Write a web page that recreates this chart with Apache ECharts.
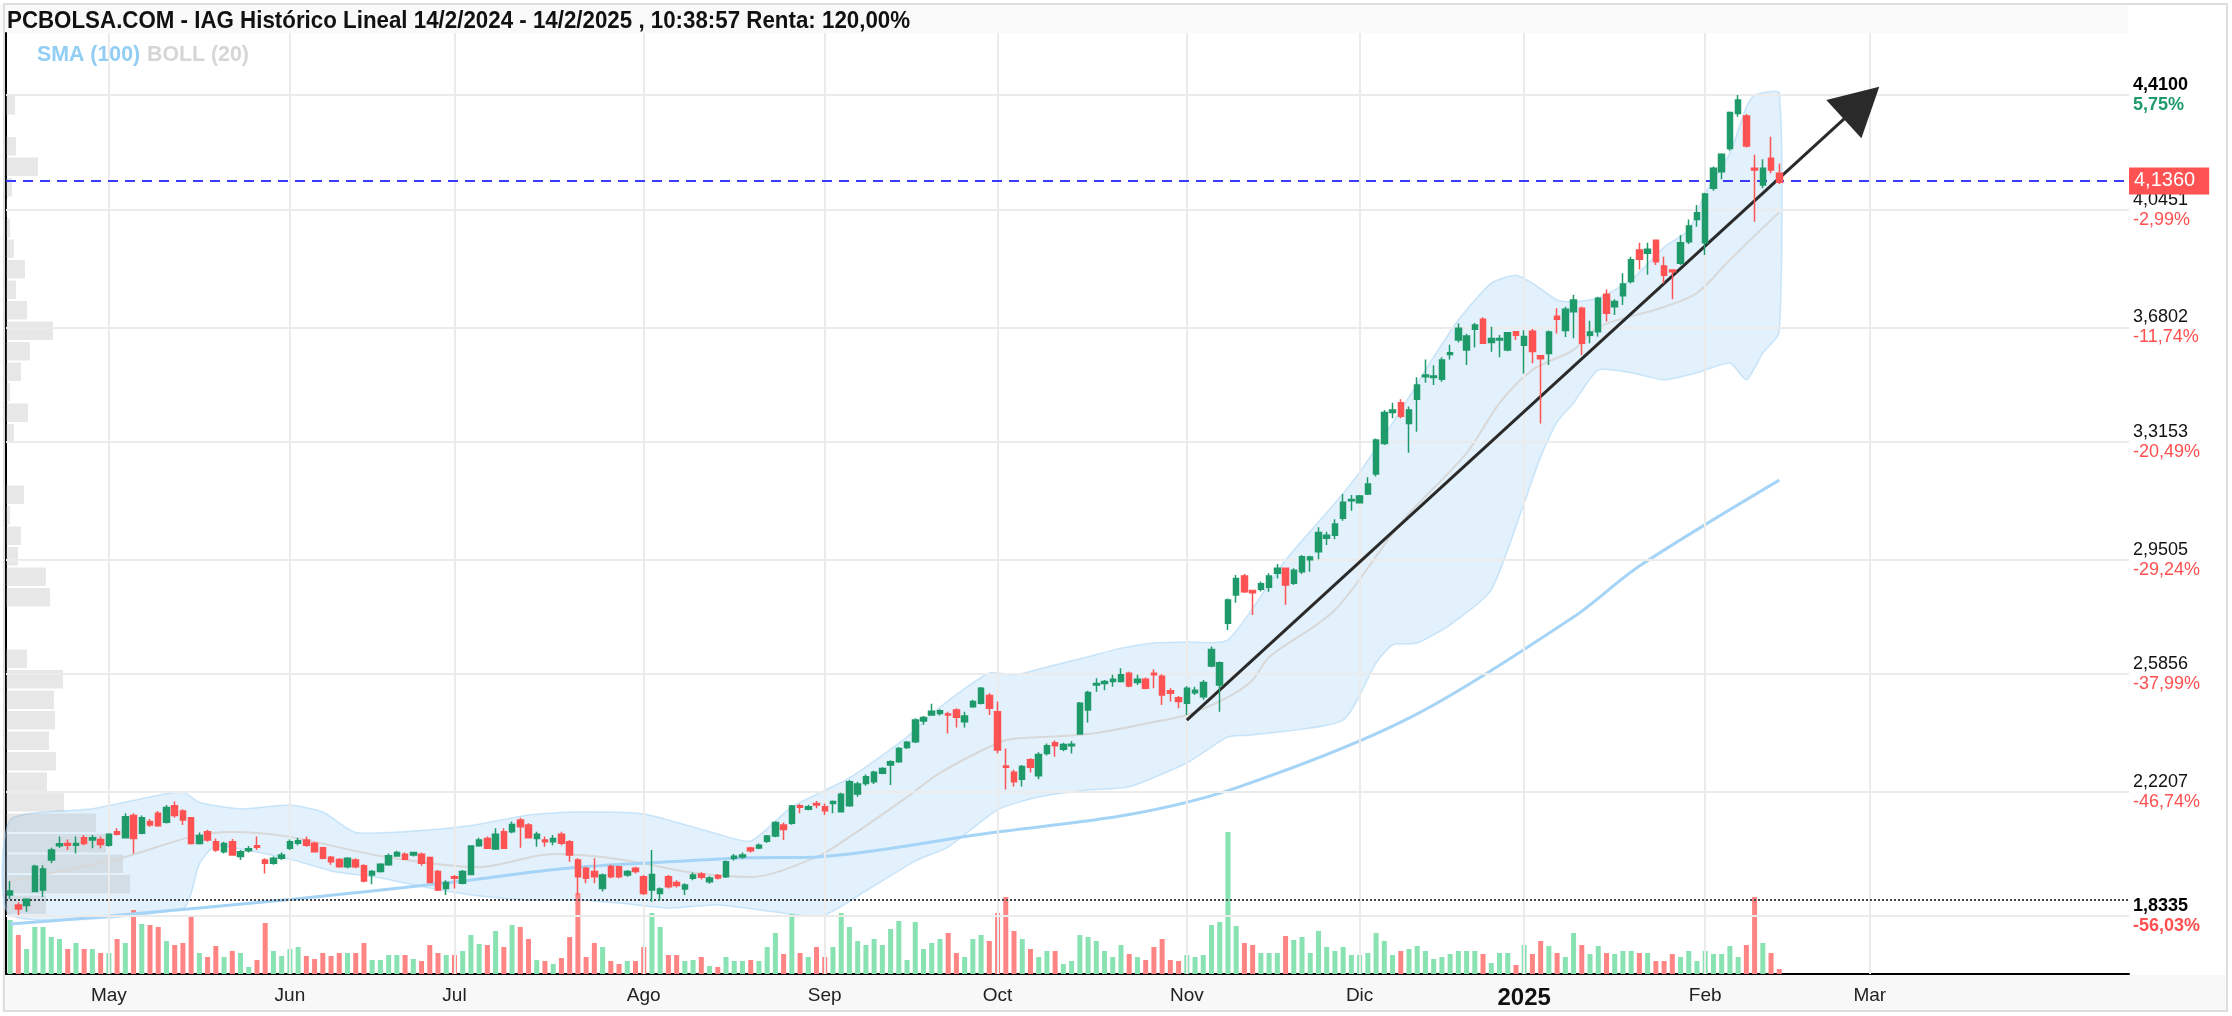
<!DOCTYPE html>
<html>
<head>
<meta charset="utf-8">
<title>IAG Histórico Lineal</title>
<script src="https://cdn.jsdelivr.net/npm/echarts@6/dist/echarts.min.js"></script>
<style>
html, body { margin: 0; padding: 0; background: #fff; }
#chart { width: 2232px; height: 1016px; }
</style>
</head>
<body>
<div id="chart"></div>
<script>
// sesiones 15/4/2024 ... (hueco futuro hasta mediados de abril 2025)
const holidays = ['2024-05-01', '2024-12-25', '2024-12-26', '2025-01-01'];
const cats = [];
(function () {
    let d = new Date(Date.UTC(2024, 3, 15));
    while (cats.length < 258) {
        const wd = d.getUTCDay();
        const s = d.toISOString().slice(0, 10);
        if (wd !== 0 && wd !== 6 && holidays.indexOf(s) < 0) cats.push(s);
        d.setUTCDate(d.getUTCDate() + 1);
    }
})();

// OHLC
const opens = [
1.896,1.865,1.863,1.907,1.912,2.006,2.051,2.058,2.053,2.076,
2.069,2.071,2.053,2.095,2.076,2.146,2.090,2.127,2.153,2.125,
2.177,2.160,2.139,2.058,2.095,2.064,2.032,2.064,2.017,2.035,
2.051,2.006,1.996,2.012,2.043,2.059,2.069,2.059,2.045,2.015,
2.008,1.985,2.006,1.988,1.959,1.970,1.991,2.019,2.024,2.022,
2.024,2.014,1.970,1.917,1.954,1.933,1.961,2.051,2.074,2.041,
2.095,2.095,2.132,2.116,2.074,2.069,2.064,2.087,2.064,2.006,
1.980,1.970,1.917,1.986,1.985,1.959,1.980,1.954,1.912,1.901,
1.954,1.936,1.915,1.949,1.962,1.938,1.958,1.954,2.012,2.016,
2.044,2.044,2.065,2.082,2.116,2.122,2.177,2.166,2.184,2.174,
2.184,2.158,2.177,2.214,2.247,2.252,2.279,2.305,2.315,2.360,
2.378,2.443,2.462,2.467,2.465,2.478,2.441,2.488,2.499,2.523,
2.472,2.302,2.282,2.260,2.321,2.271,2.341,2.375,2.354,2.365,
2.402,2.478,2.556,2.561,2.567,2.567,2.593,2.564,2.574,2.593,
2.584,2.538,2.516,2.499,2.532,2.519,2.616,2.556,2.750,2.839,
2.899,2.853,2.857,2.863,2.907,2.923,2.876,2.912,2.950,2.975,
3.017,3.027,3.080,3.135,3.129,3.156,3.219,3.315,3.412,3.443,
3.378,3.454,3.525,3.522,3.517,3.595,3.640,3.609,3.674,3.705,
3.632,3.640,3.609,3.666,3.624,3.668,3.591,3.598,3.715,3.670,
3.729,3.740,3.655,3.666,3.784,3.745,3.779,3.824,3.923,3.913,
3.954,3.873,3.860,3.881,3.949,4.019,3.946,4.117,4.169,4.242,
4.352,4.344,4.180,4.127,4.211,4.164];
const closes = [
1.909,1.852,1.883,1.987,1.978,2.038,2.057,2.053,2.058,2.058,
2.076,2.055,2.087,2.087,2.142,2.074,2.139,2.116,2.114,2.171,
2.146,2.132,2.058,2.083,2.069,2.038,2.058,2.022,2.032,2.042,
2.046,1.996,2.012,2.022,2.064,2.067,2.053,2.032,2.012,2.001,
1.985,2.012,1.985,1.940,1.970,1.993,2.020,2.030,2.009,2.030,
1.996,1.936,1.912,1.936,1.949,1.970,2.050,2.069,2.043,2.087,
2.043,2.118,2.111,2.076,2.087,2.064,2.074,2.059,2.022,1.954,
1.949,1.954,1.959,1.954,1.954,1.970,1.970,1.901,1.961,1.915,
1.922,1.926,1.928,1.959,1.952,1.950,1.950,2.001,2.018,2.022,
2.035,2.053,2.082,2.124,2.102,2.176,2.172,2.174,2.179,2.161,
2.190,2.213,2.252,2.245,2.268,2.282,2.294,2.315,2.357,2.376,
2.446,2.454,2.474,2.475,2.462,2.455,2.459,2.504,2.546,2.483,
2.352,2.298,2.252,2.300,2.298,2.338,2.365,2.365,2.369,2.370,
2.499,2.533,2.561,2.567,2.574,2.588,2.553,2.574,2.546,2.588,
2.525,2.530,2.504,2.546,2.540,2.564,2.668,2.626,2.823,2.891,
2.849,2.846,2.874,2.899,2.923,2.870,2.917,2.959,2.958,3.035,
3.027,3.062,3.130,3.139,3.150,3.188,3.326,3.412,3.420,3.401,
3.420,3.499,3.530,3.527,3.577,3.600,3.677,3.653,3.687,3.630,
3.645,3.645,3.663,3.655,3.651,3.604,3.581,3.665,3.705,3.737,
3.766,3.630,3.665,3.771,3.724,3.761,3.816,3.892,3.894,3.925,
3.886,3.844,3.855,3.946,3.998,4.040,4.099,4.180,4.224,4.355,
4.394,4.250,4.174,4.180,4.174,4.136];
const lows = [
1.884,1.8335,1.844,1.905,1.890,1.996,2.045,2.038,2.027,2.053,
2.043,2.043,2.048,2.083,2.074,2.027,2.087,2.111,2.111,2.121,
2.139,2.116,2.055,2.055,2.064,2.032,2.027,2.020,2.006,2.030,
2.038,1.964,1.991,2.006,2.038,2.053,2.048,2.030,2.009,1.991,
1.982,1.980,1.980,1.936,1.930,1.967,1.988,2.017,2.006,2.017,
1.988,1.933,1.909,1.896,1.917,1.930,1.959,2.048,2.041,2.038,
2.041,2.090,2.045,2.074,2.048,2.048,2.053,2.053,2.001,1.896,
1.933,1.933,1.907,1.949,1.949,1.954,1.964,1.896,1.875,1.880,
1.917,1.920,1.896,1.943,1.945,1.932,1.945,1.950,2.005,2.010,
2.030,2.040,2.060,2.078,2.069,2.117,2.153,2.163,2.169,2.148,
2.153,2.156,2.174,2.205,2.240,2.245,2.276,2.242,2.312,2.355,
2.374,2.431,2.462,2.460,2.404,2.423,2.423,2.485,2.495,2.462,
2.342,2.228,2.237,2.237,2.281,2.260,2.335,2.331,2.348,2.341,
2.400,2.438,2.535,2.540,2.551,2.564,2.549,2.556,2.543,2.546,
2.493,2.504,2.483,2.462,2.525,2.510,2.612,2.472,2.729,2.815,
2.845,2.776,2.850,2.849,2.891,2.808,2.870,2.905,2.912,2.951,
2.996,3.014,3.072,3.104,3.127,3.153,3.211,3.310,3.394,3.394,
3.286,3.352,3.506,3.499,3.509,3.579,3.632,3.562,3.617,3.628,
3.603,3.586,3.605,3.640,3.535,3.567,3.378,3.562,3.661,3.650,
3.646,3.593,3.630,3.651,3.698,3.719,3.750,3.818,3.862,3.845,
3.876,3.818,3.768,3.876,3.942,3.996,3.907,4.109,4.145,4.235,
4.342,4.245,4.012,4.117,4.164,4.130];
const highs = [
1.940,1.873,1.886,1.991,1.990,2.045,2.080,2.071,2.080,2.085,
2.085,2.080,2.090,2.106,2.153,2.153,2.146,2.135,2.160,2.179,
2.190,2.166,2.139,2.093,2.101,2.074,2.064,2.072,2.038,2.050,
2.080,2.012,2.017,2.030,2.071,2.076,2.080,2.064,2.048,2.019,
2.012,2.015,2.012,1.993,1.975,1.996,2.027,2.035,2.030,2.032,
2.030,2.017,1.975,1.943,1.959,1.975,2.053,2.076,2.080,2.106,
2.106,2.127,2.139,2.122,2.095,2.080,2.085,2.095,2.069,2.012,
1.985,2.012,1.964,1.991,1.988,1.975,1.985,1.959,2.038,1.920,
1.959,1.943,1.933,1.967,1.968,1.955,1.962,2.005,2.025,2.030,
2.048,2.058,2.085,2.128,2.124,2.179,2.182,2.180,2.192,2.184,
2.193,2.218,2.258,2.252,2.275,2.287,2.298,2.320,2.361,2.380,
2.452,2.459,2.497,2.480,2.472,2.483,2.472,2.510,2.550,2.530,
2.504,2.357,2.290,2.305,2.326,2.345,2.372,2.382,2.375,2.380,
2.503,2.538,2.577,2.572,2.588,2.609,2.598,2.588,2.580,2.606,
2.590,2.546,2.522,2.552,2.551,2.572,2.677,2.630,2.828,2.902,
2.905,2.855,2.881,2.907,2.936,2.925,2.923,2.965,2.962,3.052,
3.038,3.077,3.156,3.153,3.153,3.209,3.331,3.420,3.443,3.454,
3.431,3.523,3.579,3.561,3.586,3.625,3.693,3.660,3.694,3.712,
3.682,3.656,3.665,3.668,3.671,3.675,3.593,3.670,3.740,3.745,
3.782,3.745,3.701,3.776,3.799,3.768,3.850,3.902,3.946,3.946,
3.956,3.902,3.862,3.970,4.019,4.064,4.103,4.185,4.227,4.358,
4.410,4.350,4.222,4.208,4.279,4.195];

// volumen (millones aprox.)
const volumes = [
54,39,25,47,47,37,35,25,31,25, 25,21,21,35,31,64,50,49,47,33,
29,31,57,21,17,28,17,23,21,7, 14,51,23,18,25,27,18,15,21,18,
21,21,21,31,14,14,19,19,19,15, 13,29,21,19,19,23,39,30,29,43,
27,49,47,35,14,13,10,16,37,81, 17,31,27,13,10,13,13,27,61,47,
19,19,13,14,17,8,7,17,13,13, 14,13,27,41,20,60,21,17,27,17,
27,61,47,33,29,35,29,45,53,14, 52,25,31,35,41,21,17,35,39,33,
61,77,43,35,25,17,23,23,10,13, 39,37,33,23,17,29,20,17,14,27,
35,14,13,19,17,19,49,52,142,48, 31,29,21,21,21,38,34,37,21,43,
27,23,27,19,19,21,41,33,19,23, 25,28,23,15,17,20,23,23,23,20,
11,21,21,9,29,20,33,28,21,17, 41,29,20,28,21,20,23,23,21,21,
13,13,20,17,23,13,23,20,20,28, 17,29,77,31,21,5];

// SMA(100) (índice de sesión, valor)
const smaIdx = [0, 12, 34, 54, 68, 84, 90, 98, 119, 136, 149, 170, 190, 198, 215];
const smaVal = [1.805, 1.830, 1.882, 1.937, 1.981, 2.006, 2.013, 2.016, 2.091, 2.149, 2.233, 2.452, 2.770, 2.930, 3.200];

// BOLL(20)
const bbUpIdx = [0,10,18,21,23,28,34,38,42,51,57,63,69,77,86,90,95,102,109,113,119,122,126,131,135,139,143,148,155,161,164,169,173,176,180,183,185,188,190,193,197,201,204,206,209,211,212,215];
const bbUpVal = [2.132,2.167,2.210,2.220,2.188,2.167,2.179,2.157,2.093,2.101,2.119,2.148,2.157,2.151,2.088,2.066,2.173,2.264,2.393,2.487,2.594,2.588,2.613,2.645,2.672,2.688,2.691,2.698,2.949,3.128,3.225,3.420,3.587,3.703,3.819,3.844,3.819,3.766,3.760,3.772,3.829,3.932,3.986,4.102,4.228,4.372,4.410,4.416];
const bbLoIdx = [0,21,23,25,34,39,45,51,57,63,69,74,80,86,96,99,104,110,114,120,125,131,136,143,146,148,151,162,166,168,171,175,180,184,186,188,190,193,197,201,205,209,211,213,215];
const bbLoVal = [1.833,1.855,1.994,2.050,2.009,1.972,1.950,1.918,1.893,1.881,1.881,1.871,1.855,1.865,1.833,1.833,1.909,2.003,2.047,2.164,2.204,2.226,2.236,2.311,2.361,2.393,2.399,2.446,2.625,2.682,2.688,2.745,2.855,3.128,3.273,3.383,3.442,3.546,3.537,3.515,3.537,3.568,3.515,3.599,3.665];
const bbMidIdx = [0,13,22,27,34,45,57,66,74,83,90,98,102,109,113,120,122,131,139,143,148,151,153,161,169,177,181,185,190,193,201,205,209,215];
const bbMidVal = [1.940,2.009,2.079,2.094,2.079,2.019,1.984,2.025,2.009,1.966,1.953,2.016,2.079,2.204,2.280,2.374,2.387,2.402,2.440,2.462,2.518,2.572,2.644,2.792,3.065,3.285,3.442,3.546,3.609,3.681,3.744,3.788,3.892,4.042];

// perfil de volumen por precio (40 tramos desde 1,8335 hasta 4,41)
const profileBase = 1.8335, profileTop = 4.41;
const profileVol = [40,124,117,100,90,58,41,50,43,49, 48,57,21,0,0,44,40,12,15,4, 18,0,0,8,22,4,15,24,47,21, 10,19,8,4,1,6,32,10,0,9];

// etiquetas eje de precios
const tickValues = [4.41, 4.0451, 3.6802, 3.3153, 2.9505, 2.5856, 2.2207, 1.8335];
const tickLabels = ['4,4100', '4,0451', '3,6802', '3,3153', '2,9505', '2,5856', '2,2207', '1,8335'];
const tickPcts = ['5,75%', '-2,99%', '-11,74%', '-20,49%', '-29,24%', '-37,99%', '-46,74%', '-56,03%'];

const lastPrice = 4.136;
const startPrice = 1.882;
// línea de tendencia
const trendFrom = [143, 2.446];
const trendTo = [225, 4.385];

const monthNames = ['', 'Feb', 'Mar', 'Abr', 'May', 'Jun', 'Jul', 'Ago', 'Sep', 'Oct', 'Nov', 'Dic'];

const UP = '#1f9a6a', DOWN = '#ff5252';
const FONT = '"Liberation Sans", Arial, Helvetica, sans-serif';

// primer día de cada mes (sin abril 2025)
const monthStarts = [];
for (let i = 1; i < cats.length; i++) {
    if (cats[i].slice(5, 7) !== cats[i - 1].slice(5, 7) && cats[i] < '2025-04') monthStarts.push(i);
}

const pxTop = 33, pxBottom = 974;
const pxPerUnit = (915 - 95) / (4.41 - 1.8335);
const yMax = 4.41 + (95 - pxTop) / pxPerUnit;
const yMin = 1.8335 - (pxBottom - 915) / pxPerUnit;

const chart = echarts.init(document.getElementById('chart'));

const gridLines = tickValues.map(function (v, k) {
    const bold = (k === 0 || k === tickValues.length - 1);
    const pStyle = k === 0 ? 'pg' : (bold ? 'pb' : 'p');
    return {
        yAxis: v,
        lineStyle: { color: '#ebebeb', width: 2, type: 'solid' },
        label: {
            show: true, position: 'end', distance: 4,
            formatter: '{' + (bold ? 'vb' : 'v') + '|' + tickLabels[k] + '}\n{' + pStyle + '|' + tickPcts[k] + '}'
        }
    };
});
monthStarts.forEach(function (i) {
    gridLines.push({ xAxis: cats[i], lineStyle: { color: '#ebebeb', width: 2, type: 'solid' }, label: { show: false } });
});

const option = {
    animation: false,
    backgroundColor: '#fff',
    grid: [
        { left: 6, top: pxTop, width: 2123, height: pxBottom - pxTop },
        { left: 6, top: pxBottom - 150, width: 2123, height: 150 }
    ],
    xAxis: [
        {
            type: 'category', gridIndex: 0, data: cats, boundaryGap: true,
            axisLine: { lineStyle: { color: '#000', width: 2 } },
            axisTick: { show: false },
            splitLine: { show: false },
            axisLabel: {
                interval: function (index) { return monthStarts.indexOf(index) >= 0; },
                formatter: function (value) {
                    const m = parseInt(value.slice(5, 7), 10);
                    if (m === 1) return '{y|' + value.slice(0, 4) + '}';
                    return monthNames[m - 1];
                },
                margin: 12, fontSize: 19, color: '#222', fontFamily: FONT,
                rich: { y: { fontSize: 24, fontWeight: 'bold', color: '#111', fontFamily: FONT } }
            }
        },
        { type: 'value', gridIndex: 0, min: 0, max: 2123, show: false },
        { type: 'category', gridIndex: 1, data: cats, show: false, boundaryGap: true }
    ],
    yAxis: [
        {
            type: 'value', gridIndex: 0, position: 'right', min: yMin, max: yMax,
            axisLine: { show: true, lineStyle: { color: '#000', width: 2 } },
            axisTick: { show: false }, axisLabel: { show: false }, splitLine: { show: false }
        },
        { type: 'value', gridIndex: 1, min: 0, max: 150, show: false }
    ],
    graphic: [
        { type: 'rect', z: -10, shape: { x: 0, y: 4, width: 2128, height: 29 }, style: { fill: '#f9f9f9' } },
        { type: 'rect', z: -10, shape: { x: 2, y: 975, width: 2224, height: 36 }, style: { fill: '#f8f8f8' } },
        { type: 'rect', z: -9, shape: { x: 4, y: 4, width: 2223, height: 1007 }, style: { fill: 'none', stroke: '#dedede', lineWidth: 2 } },
        {
            type: 'text', x: 7, y: 21, scaleX: 0.93,
            style: {
                text: 'PCBOLSA.COM - IAG Histórico Lineal 14/2/2024 - 14/2/2025 , 10:38:57 Renta: 120,00%',
                fontSize: 24, fontWeight: 'bold', fill: '#111', verticalAlign: 'middle',
                fontFamily: '"Liberation Sans Narrow", "Arial Narrow", "Liberation Sans", Arial, sans-serif'
            }
        },
        { type: 'text', x: 37, y: 55, scaleX: 0.97, style: { text: 'SMA (100)', fontSize: 22, fontWeight: 'bold', fill: '#92cdf4', fontFamily: FONT, verticalAlign: 'middle' } },
        { type: 'text', x: 147, y: 55, scaleX: 0.97, style: { text: 'BOLL (20)', fontSize: 22, fontWeight: 'bold', fill: '#d6d6d6', fontFamily: FONT, verticalAlign: 'middle' } }
    ],
    series: [
        {
            // rejilla y etiquetas del eje de precios
            name: 'rejilla', type: 'line', xAxisIndex: 0, yAxisIndex: 0, z: 0,
            data: closes, symbol: 'none', silent: true, lineStyle: { opacity: 0 },
            markLine: {
                silent: true, symbol: 'none', animation: false,
                label: {
                    fontFamily: FONT,
                    rich: {
                        v: { fontSize: 18, color: '#111', lineHeight: 20, fontFamily: FONT },
                        vb: { fontSize: 18, color: '#000', fontWeight: 'bold', lineHeight: 20, fontFamily: FONT },
                        p: { fontSize: 18, color: '#ff4f4f', lineHeight: 20, fontFamily: FONT },
                        pb: { fontSize: 18, color: '#ff4f4f', fontWeight: 'bold', lineHeight: 20, fontFamily: FONT },
                        pg: { fontSize: 18, color: '#1f9a6a', fontWeight: 'bold', lineHeight: 20, fontFamily: FONT }
                    }
                },
                data: gridLines
            }
        },
        {
            name: 'banda', type: 'custom', xAxisIndex: 0, yAxisIndex: 0, z: 1, silent: true,
            data: [[0, bbMidVal[0]]],
            renderItem: function (params, api) {
                const pts = [];
                bbUpIdx.forEach(function (ix, k) { pts.push(api.coord([ix, bbUpVal[k]])); });
                for (let k = bbLoIdx.length - 1; k >= 0; k--) pts.push(api.coord([bbLoIdx[k], bbLoVal[k]]));
                return {
                    type: 'polygon', shape: { points: pts, smooth: 0.2 },
                    style: { fill: 'rgba(160, 210, 245, 0.30)', stroke: 'rgba(150, 205, 245, 0.45)', lineWidth: 1.5 }
                };
            }
        },
        {
            name: 'perfil', type: 'custom', xAxisIndex: 1, yAxisIndex: 0, z: 2, silent: true,
            data: profileVol.map(function (v, k) {
                const step = (profileTop - profileBase) / profileVol.length;
                return [v, profileBase + k * step, profileBase + (k + 1) * step];
            }),
            renderItem: function (params, api) {
                const a = api.coord([0, api.value(2)]);
                const b = api.coord([api.value(0), api.value(1)]);
                return {
                    type: 'rect',
                    shape: { x: a[0], y: a[1] + 1, width: b[0] - a[0], height: b[1] - a[1] - 2 },
                    style: { fill: 'rgba(170, 170, 170, 0.28)' }
                };
            }
        },
        {
            name: 'Volumen', type: 'bar', xAxisIndex: 2, yAxisIndex: 1, z: 2, barWidth: 5, silent: true,
            data: volumes.map(function (v, i) {
                return { value: v, itemStyle: { color: closes[i] >= opens[i] ? '#88e2b2' : '#ff8585' } };
            })
        },
        {
            name: 'BOLL media', type: 'line', xAxisIndex: 0, yAxisIndex: 0, z: 3, symbol: 'none', silent: true,
            smooth: 0.3,
            data: bbMidIdx.map(function (ix, k) { return [cats[ix], bbMidVal[k]]; }),
            lineStyle: { color: '#d8d8d8', width: 2 }
        },
        {
            name: 'SMA (100)', type: 'line', xAxisIndex: 0, yAxisIndex: 0, z: 3, symbol: 'none', silent: true,
            smooth: 0.3,
            data: smaIdx.map(function (ix, k) { return [cats[ix], smaVal[k]]; }),
            lineStyle: { color: '#a5d4f6', width: 3 }
        },
        {
            name: 'niveles', type: 'line', xAxisIndex: 0, yAxisIndex: 0, z: 4,
            data: closes, symbol: 'none', silent: true, lineStyle: { opacity: 0 },
            markLine: {
                silent: true, symbol: 'none', animation: false,
                data: [
                    {
                        yAxis: startPrice,
                        lineStyle: { color: '#444', width: 2, type: [2, 2] },
                        label: { show: false }
                    },
                    {
                        yAxis: lastPrice,
                        lineStyle: { color: '#3a3aff', width: 2, type: [10, 7] },
                        label: {
                            show: true, position: 'end', distance: 0,
                            formatter: '4,1360', color: '#fff', backgroundColor: '#ff5252',
                            fontSize: 20, fontFamily: FONT, padding: [4, 14, 3, 5]
                        }
                    }
                ]
            }
        },
        {
            name: 'IAG', type: 'candlestick', xAxisIndex: 0, yAxisIndex: 0, z: 5, barWidth: 6,
            data: opens.map(function (o, i) { return [o, closes[i], lows[i], highs[i]]; }),
            itemStyle: { color: UP, color0: DOWN, borderColor: UP, borderColor0: DOWN, borderWidth: 1.5 },
            markLine: {
                silent: true, animation: false,
                symbol: ['none', 'triangle'], symbolSize: [52, 48],
                lineStyle: { color: '#2a2a2a', width: 3, type: 'solid' },
                label: { show: false },
                data: [[
                    { coord: [cats[trendFrom[0]], trendFrom[1]] },
                    { coord: [cats[trendTo[0]], trendTo[1]] }
                ]]
            }
        }
    ]
};

chart.setOption(option);
</script>
</body>
</html>
